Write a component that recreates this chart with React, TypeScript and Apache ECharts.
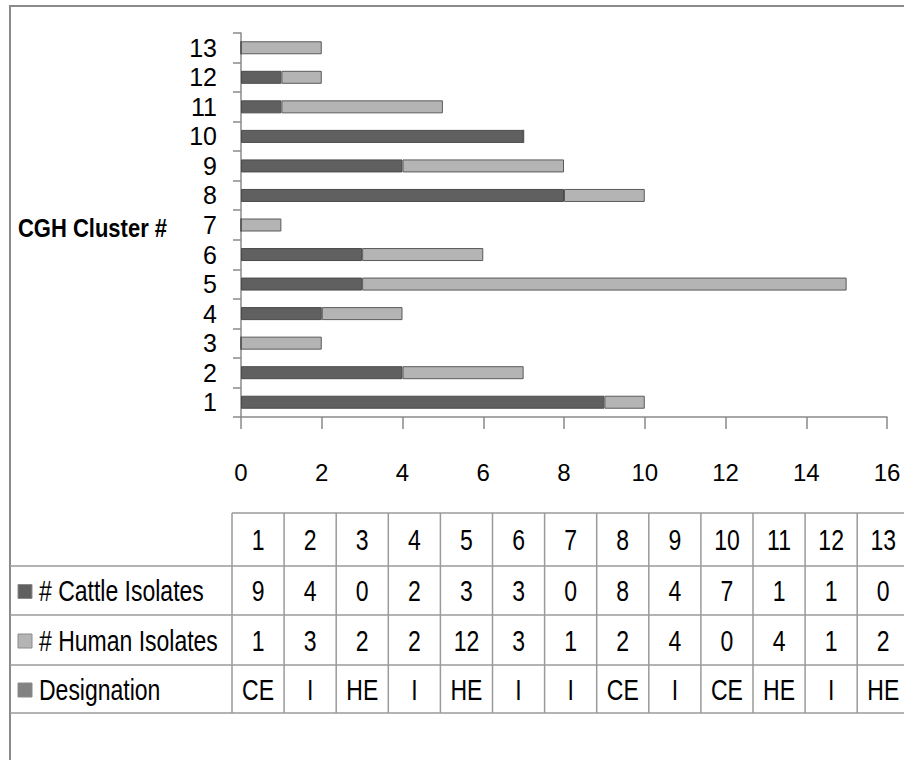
import React, { useEffect, useRef } from "react";
import * as echarts from "echarts";

const categories = ["1", "2", "3", "4", "5", "6", "7", "8", "9", "10", "11", "12", "13"];
const cattleIsolates = [9, 4, 0, 2, 3, 3, 0, 8, 4, 7, 1, 1, 0];
const humanIsolates = [1, 3, 2, 2, 12, 3, 1, 2, 4, 0, 4, 1, 2];
const designation = ["CE", "I", "HE", "I", "HE", "I", "I", "CE", "I", "CE", "HE", "I", "HE"];
const rowNames = ["# Cattle Isolates", "# Human Isolates", "Designation"];
const xTicks = { min: 0, max: 16, interval: 2 };

const FONT = "'Liberation Sans', Arial, sans-serif";
const C_CATTLE = "#606060";
const C_HUMAN = "#b4b4b4";
const C_DESIG = "#828282";
const LINE = "#9a9a9a";

export default function App() {
  const ref = useRef<HTMLDivElement>(null);
  useEffect(() => {
    if (!ref.current) return;
    const chart = echarts.init(ref.current, undefined, { renderer: "svg" });

    // table geometry
    const tLeft = 10;
    const colStart = 232;
    const colW = 52.1;
    const rowTops = [513, 566, 615, 665, 713];
    const tRight = colStart + colW * categories.length;
    const lineStyle = { stroke: LINE, lineWidth: 1.5 };
    const g: any[] = [];

    // outer border
    g.push({
      type: "rect",
      shape: { x: 10, y: 6, width: 1000, height: 900 },
      style: { fill: "none", stroke: "#8a8a8a", lineWidth: 2 },
      silent: true,
    });

    g.push({ type: "line", shape: { x1: colStart, y1: rowTops[0], x2: tRight, y2: rowTops[0] }, style: lineStyle });
    for (let i = 1; i < rowTops.length; i++) {
      g.push({ type: "line", shape: { x1: tLeft, y1: rowTops[i], x2: tRight, y2: rowTops[i] }, style: lineStyle });
    }
    for (let c = 0; c <= categories.length; c++) {
      const x = colStart + c * colW;
      g.push({ type: "line", shape: { x1: x, y1: rowTops[0], x2: x, y2: rowTops[4] }, style: lineStyle });
    }

    const textStyle = (text: string, align: string) => ({
      text,
      fontFamily: FONT,
      fontSize: 23,
      fill: "#000",
      align,
      verticalAlign: "middle",
    });

    const rows: (string | number)[][] = [categories, cattleIsolates, humanIsolates, designation];
    rows.forEach((row, r) => {
      const cy = (rowTops[r] + rowTops[r + 1]) / 2 + 1;
      row.forEach((v, c) => {
        g.push({
          type: "text",
          x: colStart + c * colW + colW / 2,
          y: cy,
          scaleY: 1.25,
          style: textStyle(String(v), "center"),
        });
      });
    });

    const legendColors = [C_CATTLE, C_HUMAN, C_DESIG];
    rowNames.forEach((name, i) => {
      const cy = (rowTops[i + 1] + rowTops[i + 2]) / 2 + 1;
      g.push({
        type: "rect",
        shape: { x: 18, y: cy - 7, width: 14, height: 14 },
        style: { fill: legendColors[i], stroke: "#8a8a8a", lineWidth: 1 },
      });
      g.push({
        type: "text",
        x: 39,
        y: cy,
        scaleY: 1.25,
        style: textStyle(name, "left"),
      });
    });

    g.push({
      type: "text",
      x: 18,
      y: 228,
      scaleY: 1.15,
      style: {
        text: "CGH Cluster #",
        fontFamily: FONT,
        fontSize: 22,
        fontWeight: "bold",
        fill: "#000",
        align: "left",
        verticalAlign: "middle",
      },
    });

    chart.setOption({
      animation: false,
      backgroundColor: "#fff",
      grid: { left: 241, right: 17, top: 33, bottom: 343, containLabel: false },
      xAxis: {
        type: "value",
        min: xTicks.min,
        max: xTicks.max,
        interval: xTicks.interval,
        axisLine: { show: true, lineStyle: { color: "#8a8a8a", width: 1.5 } },
        axisTick: { show: true, length: 12, lineStyle: { color: "#8a8a8a", width: 1.5 } },
        splitLine: { show: false },
        axisLabel: { fontFamily: FONT, fontSize: 24, color: "#000", margin: 43 },
      },
      yAxis: {
        type: "category",
        data: categories,
        axisLine: { show: true, lineStyle: { color: "#8a8a8a", width: 1.5 } },
        axisTick: { show: true, length: 8, lineStyle: { color: "#8a8a8a", width: 1.5 } },
        axisLabel: { fontFamily: FONT, fontSize: 25, color: "#000", margin: 24, interval: 0 },
      },
      series: [
        {
          name: "# Cattle Isolates",
          type: "bar",
          stack: "a",
          data: cattleIsolates,
          barWidth: 13,
          itemStyle: { color: C_CATTLE, borderColor: "#4a4a4a", borderWidth: 1 },
        },
        {
          name: "# Human Isolates",
          type: "bar",
          stack: "a",
          data: humanIsolates,
          barWidth: 13,
          itemStyle: { color: C_HUMAN, borderColor: "#5a5a5a", borderWidth: 1 },
        },
      ],
      graphic: g,
    });
    return () => chart.dispose();
  }, []);
  return (
    <div
      ref={ref}
      style={{ position: "absolute", left: 0, top: 0, width: 904, height: 760, overflow: "hidden" }}
    />
  );
}
